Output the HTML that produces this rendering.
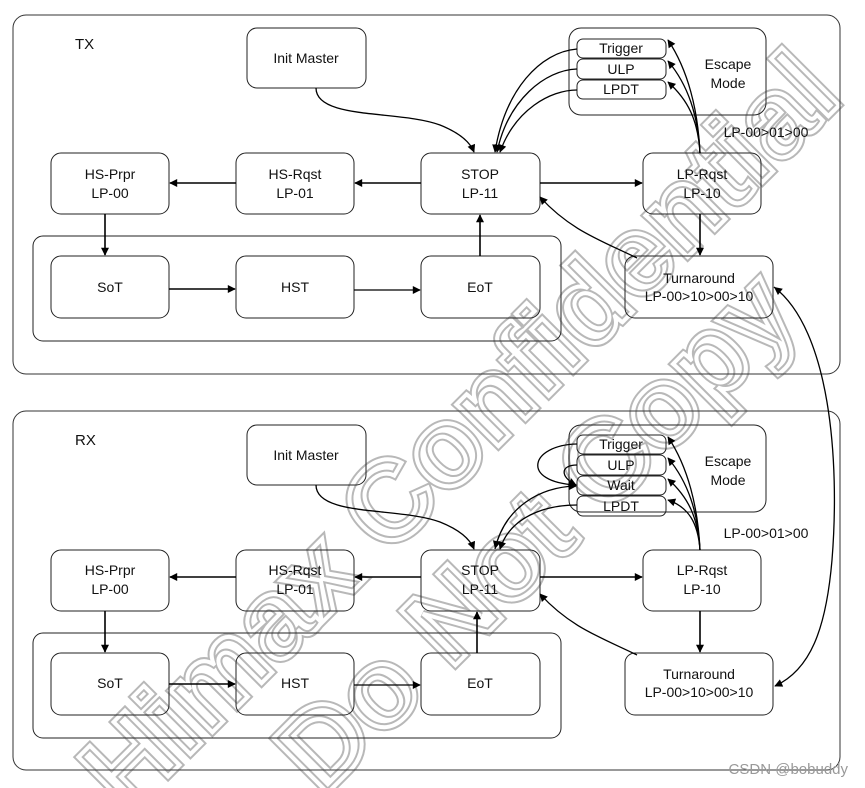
<!DOCTYPE html>
<html><head><meta charset="utf-8"><style>
html,body{margin:0;padding:0;background:#fff;width:865px;height:788px;overflow:hidden;}
svg{display:block;overflow:hidden;}
text{font-family:"Liberation Sans",Arial,sans-serif;}
</style></head><body>
<svg width="865" height="788" viewBox="0 0 865 788" xmlns="http://www.w3.org/2000/svg">
<defs>
<marker id="a" viewBox="0 0 10 10" refX="9" refY="5" markerWidth="10" markerHeight="8" markerUnits="userSpaceOnUse" orient="auto"><path d="M0,0 L10,5 L0,10 z" fill="#000"/></marker>
<marker id="as" viewBox="0 0 10 10" refX="10" refY="5" markerWidth="10" markerHeight="8" markerUnits="userSpaceOnUse" orient="auto-start-reverse"><path d="M0,0 L10,5 L0,10 z" fill="#000"/></marker>
<clipPath id="c"><rect x="0" y="0" width="865" height="788"/></clipPath>
</defs>
<g clip-path="url(#c)">
<g font-weight="bold">
<g transform="translate(458,430) rotate(-45)" font-size="112">
<text text-anchor="middle" y="40" fill="none" stroke="#b8b8b8" stroke-width="8">Himax Confidential</text>
<text text-anchor="middle" y="40" fill="none" stroke="#fff" stroke-width="4">Himax Confidential</text>
</g>
<g transform="translate(534,530) rotate(-45)" font-size="112">
<text text-anchor="middle" y="40" fill="none" stroke="#b8b8b8" stroke-width="8">Do Not Copy</text>
<text text-anchor="middle" y="40" fill="none" stroke="#fff" stroke-width="4">Do Not Copy</text>
</g>
</g>
</g>

<g fill="none" stroke="#333" stroke-width="1">
<rect x="13" y="15" width="827" height="359" rx="13"/>
<rect x="13" y="411" width="827" height="359" rx="13"/>
</g>

<g>
<g fill="none" stroke="#222" stroke-width="1">
<rect x="247" y="28" width="119" height="60" rx="10"/>
<rect x="51" y="153" width="118" height="61" rx="10"/>
<rect x="236" y="153" width="118" height="61" rx="10"/>
<rect x="421" y="153" width="119" height="61" rx="10"/>
<rect x="643" y="153" width="118" height="61" rx="10"/>
<rect x="33" y="236" width="528" height="105" rx="10"/>
<rect x="51" y="256" width="118" height="62" rx="10"/>
<rect x="236" y="256" width="118" height="62" rx="10"/>
<rect x="421" y="256" width="119" height="62" rx="10"/>
<rect x="625" y="256" width="148" height="62" rx="10"/>
<rect x="569" y="28" width="197" height="87" rx="12"/>
<rect x="577" y="39" width="89" height="19" rx="6"/>
<rect x="577" y="59" width="89" height="20" rx="6"/>
<rect x="577" y="80" width="89" height="19" rx="6"/>
</g>
<g font-size="14" fill="#111" text-anchor="middle">
<text x="75" y="49" text-anchor="start" font-size="15">TX</text>
<text x="306" y="63">Init Master</text>
<text x="110" y="179">HS-Prpr</text><text x="110" y="198">LP-00</text>
<text x="295" y="179">HS-Rqst</text><text x="295" y="198">LP-01</text>
<text x="480" y="179">STOP</text><text x="480" y="198">LP-11</text>
<text x="702" y="179">LP-Rqst</text><text x="702" y="198">LP-10</text>
<text x="110" y="292">SoT</text>
<text x="295" y="292">HST</text>
<text x="480" y="292">EoT</text>
<text x="699" y="283">Turnaround</text><text x="699" y="301">LP-00&gt;10&gt;00&gt;10</text>
<text x="728" y="69">Escape</text><text x="728" y="88">Mode</text>
<text x="621" y="53">Trigger</text>
<text x="621" y="74">ULP</text>
<text x="621" y="94">LPDT</text>
<text x="766" y="137">LP-00&gt;01&gt;00</text>
</g>
<g fill="none" stroke="#000" stroke-width="1.6">
<line x1="421" y1="183" x2="355" y2="183" marker-end="url(#a)"/>
<line x1="236" y1="183" x2="170" y2="183" marker-end="url(#a)"/>
<line x1="540" y1="183" x2="642" y2="183" marker-end="url(#a)"/>
<line x1="105" y1="214" x2="105" y2="255" marker-end="url(#a)"/>
<line x1="169" y1="289" x2="235" y2="289" marker-end="url(#a)"/>
<line x1="354" y1="290" x2="420" y2="290" stroke-width="1.2" marker-end="url(#a)"/>
<line x1="480" y1="256" x2="480" y2="215" marker-end="url(#a)"/>
<line x1="700" y1="214" x2="700" y2="255" marker-end="url(#a)"/>
</g>
<g fill="none" stroke="#000" stroke-width="1.3">
<path d="M316,88 C316,120 400,110 440,125 C460,133 470,142 474,152" marker-end="url(#a)"/>
<path d="M637,258 C600,240 570,230 540,197" marker-end="url(#a)"/>
<path d="M577,49 C540,52 505,90 495,152" marker-end="url(#a)"/>
<path d="M577,69 C545,70 508,100 497,152" marker-end="url(#a)"/>
<path d="M577,90 C550,90 515,110 500,152" marker-end="url(#a)"/>
<path d="M700,153 C698,110 688,70 668,40" marker-end="url(#a)"/>
<path d="M700,153 C698,115 688,85 668,61" marker-end="url(#a)"/>
<path d="M700,153 C698,120 688,100 668,82" marker-end="url(#a)"/>
</g>
</g>

<g transform="translate(0,397)">
<g fill="none" stroke="#222" stroke-width="1">
<rect x="247" y="28" width="119" height="60" rx="10"/>
<rect x="51" y="153" width="118" height="61" rx="10"/>
<rect x="236" y="153" width="118" height="61" rx="10"/>
<rect x="421" y="153" width="119" height="61" rx="10"/>
<rect x="643" y="153" width="118" height="61" rx="10"/>
<rect x="33" y="236" width="528" height="105" rx="10"/>
<rect x="51" y="256" width="118" height="62" rx="10"/>
<rect x="236" y="256" width="118" height="62" rx="10"/>
<rect x="421" y="256" width="119" height="62" rx="10"/>
<rect x="625" y="256" width="148" height="62" rx="10"/>
<rect x="569" y="28" width="197" height="87" rx="12"/>
<rect x="577" y="38" width="89" height="19" rx="6"/>
<rect x="577" y="58" width="89" height="20" rx="6"/>
<rect x="577" y="79" width="89" height="19" rx="6"/>
<rect x="577" y="99" width="89" height="20" rx="6"/>
</g>
<g font-size="14" fill="#111" text-anchor="middle">
<text x="75" y="48" text-anchor="start" font-size="15">RX</text>
<text x="306" y="63">Init Master</text>
<text x="110" y="178">HS-Prpr</text><text x="110" y="197">LP-00</text>
<text x="295" y="178">HS-Rqst</text><text x="295" y="197">LP-01</text>
<text x="480" y="178">STOP</text><text x="480" y="197">LP-11</text>
<text x="702" y="178">LP-Rqst</text><text x="702" y="197">LP-10</text>
<text x="110" y="291">SoT</text>
<text x="295" y="291">HST</text>
<text x="480" y="291">EoT</text>
<text x="699" y="282">Turnaround</text><text x="699" y="300">LP-00&gt;10&gt;00&gt;10</text>
<text x="728" y="69">Escape</text><text x="728" y="88">Mode</text>
<text x="621" y="52">Trigger</text>
<text x="621" y="73">ULP</text>
<text x="621" y="93">Wait</text>
<text x="621" y="114">LPDT</text>
<text x="766" y="141">LP-00&gt;01&gt;00</text>
</g>
<g fill="none" stroke="#000" stroke-width="1.6">
<line x1="421" y1="180" x2="355" y2="180" marker-end="url(#a)"/>
<line x1="236" y1="180" x2="170" y2="180" marker-end="url(#a)"/>
<line x1="540" y1="180" x2="642" y2="180" marker-end="url(#a)"/>
<line x1="105" y1="214" x2="105" y2="255" marker-end="url(#a)"/>
<line x1="169" y1="287" x2="235" y2="287" marker-end="url(#a)"/>
<line x1="354" y1="288" x2="420" y2="288" stroke-width="1.2" marker-end="url(#a)"/>
<line x1="477" y1="256" x2="477" y2="215" marker-end="url(#a)"/>
<line x1="700" y1="214" x2="700" y2="255" marker-end="url(#a)"/>
</g>
<g fill="none" stroke="#000" stroke-width="1.3">
<path d="M316,88 C316,120 400,110 440,125 C460,133 470,142 474,152" marker-end="url(#a)"/>
<path d="M637,258 C600,240 570,230 540,197" marker-end="url(#a)"/>
<path d="M577,47 C530,48 520,85 576,88" marker-end="url(#a)"/>
<path d="M577,68 C560,68 560,80 576,88" marker-end="url(#a)"/>
<path d="M495,152 C505,110 540,90 576,89" marker-start="url(#as)" marker-end="url(#a)"/>
<path d="M577,108 C545,108 510,120 500,152" marker-end="url(#a)"/>
<path d="M700,153 C698,110 688,70 668,40" marker-end="url(#a)"/>
<path d="M700,153 C698,115 688,85 668,61" marker-end="url(#a)"/>
<path d="M700,153 C698,120 688,100 668,82" marker-end="url(#a)"/>
<path d="M700,153 C698,125 688,110 668,103" marker-end="url(#a)"/>
</g>
</g>

<path d="M774,287 C830,330 840,460 832,560 C826,630 810,670 775,686" fill="none" stroke="#000" stroke-width="1.3" marker-start="url(#as)" marker-end="url(#a)"/>

<text x="848" y="774" font-size="15" fill="#999" text-anchor="end">CSDN @bobuddy</text>
</svg>
</body></html>
